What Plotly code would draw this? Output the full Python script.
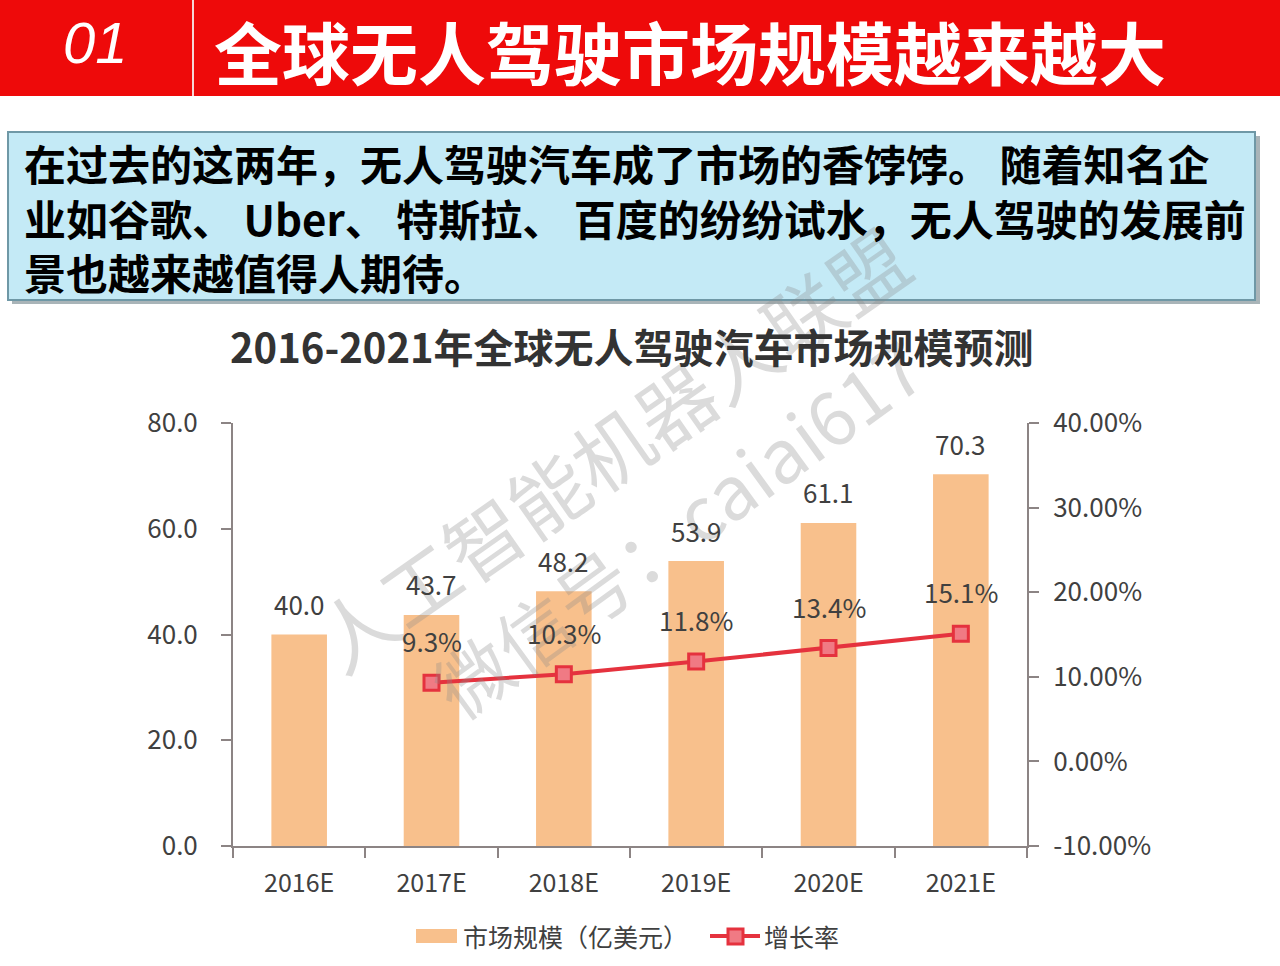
import plotly.graph_objects as go

W, H = 1280, 966

categories = ["2016E", "2017E", "2018E", "2019E", "2020E", "2021E"]
market_size = [40.0, 43.7, 48.2, 53.9, 61.1, 70.3]
growth_categories = ["2017E", "2018E", "2019E", "2020E", "2021E"]
growth_rate = [9.3, 10.3, 11.8, 13.4, 15.1]
left_ticks = [0, 20, 40, 60, 80]
right_ticks = [-10, 0, 10, 20, 30, 40]

header_num = "01"
header_title = "全球无人驾驶市场规模越来越大"
intro_lines = [
    "在过去的这两年，无人驾驶汽车成了市场的香饽饽。 随着知名企",
    "业如谷歌、 Uber、 特斯拉、 百度的纷纷试水，无人驾驶的发展前",
    "景也越来越值得人期待。",
]
chart_title = "2016-2021年全球无人驾驶汽车市场规模预测"
bar_name = "市场规模（亿美元）"
line_name = "增长率"
watermark1 = "人工智能机器人联盟"
watermark2 = "微信号：caiai617"

FONT = "Noto Sans CJK SC"
BAR_COLOR = "#F8C08C"
LINE_COLOR = "#E5323E"
MARKER_FILL = "#F07A84"
AXIS_COLOR = "#8C8484"
TEXT_COLOR = "#404040"


def px(x):
    return x / W


def py(y):
    return 1 - y / H


fig = go.Figure()

fig.add_trace(go.Bar(
    x=categories, y=market_size, name=bar_name,
    marker=dict(color=BAR_COLOR, line=dict(width=0)),
    width=0.42, yaxis="y", showlegend=False,
))
fig.add_trace(go.Scatter(
    x=growth_categories, y=growth_rate, name=line_name, yaxis="y2",
    mode="lines+markers", showlegend=False,
    line=dict(color=LINE_COLOR, width=4),
    marker=dict(symbol="square", size=15, color=MARKER_FILL,
                line=dict(color=LINE_COLOR, width=3)),
))


def paper_text(x, y, text, size, color, family=FONT, xanchor="center", **kw):
    return dict(x=px(x), y=py(y), xref="paper", yref="paper", text=text,
                showarrow=False, xanchor=xanchor, yanchor="middle",
                font=dict(family=family, size=size, color=color), **kw)


annotations = []
# watermark (beneath other text)
annotations.append(paper_text(610, 447, watermark1, 78, "#8A8A8A",
                              textangle=-35, opacity=0.3))
annotations.append(paper_text(676, 525, watermark2, 74, "#8A8A8A",
                              textangle=-36, opacity=0.3))

# bar value labels
for c, v in zip(categories, market_size):
    annotations.append(dict(x=c, y=v, xref="x", yref="y", text=f"{v:.1f}",
                            showarrow=False, yshift=31, yanchor="middle",
                            font=dict(family=FONT, size=26, color=TEXT_COLOR)))
# growth labels
for c, v in zip(growth_categories, growth_rate):
    annotations.append(dict(x=c, y=v, xref="x", yref="y2", text=f"{v:.1f}%",
                            showarrow=False, yshift=42, yanchor="middle",
                            font=dict(family=FONT, size=26, color=TEXT_COLOR)))

# header
annotations.append(paper_text(95, 43, f"<i>{header_num}</i>", 58, "white",
                              family="Liberation Sans"))
annotations.append(paper_text(690, 50, f"<b>{header_title}</b>", 68, "white"))
# intro text (one block, three lines)
annotations.append(paper_text(22, 217, "<br>".join(f"<b>{l}</b>" for l in intro_lines),
                              42, "black", xanchor="left", align="left"))
# chart title
annotations.append(paper_text(632, 346, f"<b>{chart_title}</b>", 40, "#333333"))

# legend text
annotations.append(paper_text(461, 936, bar_name, 25, TEXT_COLOR, xanchor="left"))
annotations.append(paper_text(762, 936, line_name, 25, TEXT_COLOR, xanchor="left"))

shapes = [
    dict(type="rect", xref="paper", yref="paper", x0=0, x1=1, y0=py(96), y1=1,
         fillcolor="#EE0A0A", line=dict(width=0), layer="below"),
    dict(type="line", xref="paper", yref="paper", x0=px(193), x1=px(193),
         y0=py(96), y1=1, line=dict(color="#F6D6D6", width=2)),
    # text box shadow
    dict(type="rect", xref="paper", yref="paper", x0=px(12), x1=px(1260),
         y0=py(304), y1=py(136), fillcolor="#A9B4B8", line=dict(width=0),
         layer="below"),
    dict(type="rect", xref="paper", yref="paper", x0=px(8), x1=px(1255),
         y0=py(300), y1=py(132), fillcolor="#C4EAF6",
         line=dict(color="#6F98A6", width=2), layer="below"),
    # legend keys
    dict(type="rect", xref="paper", yref="paper", x0=px(416), x1=px(457),
         y0=py(943), y1=py(929), fillcolor=BAR_COLOR, line=dict(width=0)),
    dict(type="line", xref="paper", yref="paper", x0=px(710), x1=px(760),
         y0=py(936), y1=py(936), line=dict(color=LINE_COLOR, width=4)),
    dict(type="rect", xref="paper", yref="paper", x0=px(728), x1=px(743),
         y0=py(944), y1=py(929), fillcolor=MARKER_FILL,
         line=dict(color=LINE_COLOR, width=3)),
]

fig.update_layout(
    width=W, height=H,
    margin=dict(l=0, r=0, t=0, b=0, autoexpand=False),
    paper_bgcolor="white", plot_bgcolor="rgba(0,0,0,0)",
    showlegend=False,
    xaxis=dict(domain=[px(233), px(1027)], type="category", automargin=False,
               showline=True, linecolor=AXIS_COLOR, linewidth=2,
               ticks="outside", tickson="boundaries", ticklen=10,
               tickcolor=AXIS_COLOR, tickwidth=2,
               tickfont=dict(family=FONT, size=25, color=TEXT_COLOR),
               showgrid=False, zeroline=False, ticklabelstandoff=14),
    yaxis=dict(domain=[py(846), py(423)], range=[0, 80], automargin=False,
               tickvals=left_ticks, ticktext=[f"{v:.1f}" for v in left_ticks],
               showline=True, linecolor=AXIS_COLOR, linewidth=2,
               ticks="outside", ticklen=10, tickcolor=AXIS_COLOR, tickwidth=2,
               tickfont=dict(family=FONT, size=26, color=TEXT_COLOR),
               showgrid=False, zeroline=False, ticklabelstandoff=18),
    yaxis2=dict(domain=[py(846), py(423)], range=[-10, 40],
                overlaying="y", side="right", anchor="x", automargin=False,
                tickvals=right_ticks, ticktext=[f"{v:.2f}%" for v in right_ticks],
                showline=True, linecolor=AXIS_COLOR, linewidth=2,
                ticks="outside", ticklen=10, tickcolor=AXIS_COLOR, tickwidth=2,
                tickfont=dict(family=FONT, size=26, color=TEXT_COLOR),
                showgrid=False, zeroline=False, ticklabelstandoff=9),
    annotations=annotations,
    shapes=shapes,
)

fig.write_html("out.html")
